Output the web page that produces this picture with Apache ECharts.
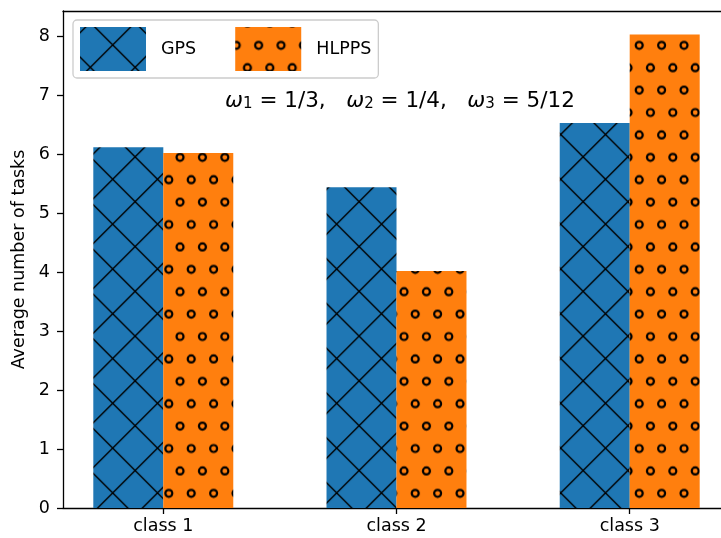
<!DOCTYPE html>
<html><head><meta charset="utf-8">
<script src="https://cdn.jsdelivr.net/npm/echarts@6/dist/echarts.min.js"></script>
<style>html,body{margin:0;padding:0;background:#fff}#c{width:721px;height:538px}</style>
</head><body><div id="c"></div>
<script>
const categories = ['class 1', 'class 2', 'class 3'];
const seriesNames = ['GPS', 'HLPPS'];
const gpsValues = [6.12, 5.44, 6.53];
const hlppsValues = [6.02, 4.02, 8.03];
const yTicks = [0, 1, 2, 3, 4, 5, 6, 7, 8];
const xTicks = [0, 1, 2];
const weights = ['1/3', '1/4', '5/12'];

const FONT = 'DejaVu Sans';
const FS = 17.5;
const T = 44.8, N = 448;

function xHatchCanvas() {
  const c = document.createElement('canvas'); c.width = N; c.height = N;
  const g = c.getContext('2d');
  g.fillStyle = '#1f77b4'; g.fillRect(0, 0, N, N);
  g.strokeStyle = '#000'; g.lineWidth = 1.4;
  g.beginPath();
  for (let k = -12; k <= 22; k++) {
    const d = k * T;
    g.moveTo(d - 20, -20); g.lineTo(d + N + 20, N + 20);
    g.moveTo(d + 20, -20); g.lineTo(d - N - 20, N + 20);
  }
  g.stroke();
  return c;
}
function oHatchCanvas() {
  const c = document.createElement('canvas'); c.width = N; c.height = N;
  const g = c.getContext('2d');
  g.fillStyle = '#ff7f0e'; g.fillRect(0, 0, N, N);
  g.strokeStyle = '#000'; g.lineWidth = 2.2;
  const h = T / 2;
  for (let i = -1; i <= 21; i++) {
    for (let j = -1; j <= 11; j++) {
      const pts = [[i * h, j * T], [i * h + h / 2, j * T + h]];
      for (const p of pts) {
        g.beginPath(); g.arc(p[0], p[1], 3.5, 0, Math.PI * 2); g.stroke();
      }
    }
  }
  return c;
}
const xc = xHatchCanvas(), oc = oHatchCanvas();
const gpsPattern = { image: xc, repeat: 'repeat', x: 23.1, y: 0.1 };
const hlPattern = { image: oc, repeat: 'repeat', x: 12.0, y: 0.5 };
const gpsLegendPattern = { image: xc, repeat: 'repeat', x: 23.1 - 80, y: 0.1 - 27 };
const hlLegendPattern = { image: oc, repeat: 'repeat', x: 12.0 - 235, y: 0.5 - 27 };

const annText = weights.map((w, i) => '{w|ω}{s|' + (i + 1) + '}{n| = ' + w + (i < weights.length - 1 ? ',   ' : '') + '}').join('');

const chart = echarts.init(document.getElementById('c'), null, { renderer: 'canvas' });
chart.setOption({
  animation: false,
  backgroundColor: '#fff',
  grid: { left: 63, right: 0, top: 11, bottom: 30, containLabel: false },
  legend: {
    left: 73, top: 20, padding: 7, itemGap: 39, itemWidth: 66, itemHeight: 44, icon: 'rect',
    backgroundColor: 'rgba(255,255,255,0.8)', borderColor: '#cccccc', borderWidth: 1.3, borderRadius: 4,
    selectedMode: false,
    textStyle: { fontFamily: FONT, fontSize: FS, color: '#000', padding: [0, 4, 0, 10] },
    data: [
      { name: seriesNames[0], itemStyle: { color: gpsLegendPattern } },
      { name: seriesNames[1], itemStyle: { color: hlLegendPattern } }
    ]
  },
  xAxis: [{
    type: 'value', min: -0.43, max: 2.3914, position: 'bottom',
    axisLine: { show: true, onZero: false, lineStyle: { color: '#000', width: 1.3 } },
    axisTick: { show: true, length: 6, lineStyle: { color: '#000', width: 1.3 }, customValues: xTicks },
    axisLabel: { customValues: xTicks, margin: 9, fontSize: FS, color: '#000', fontFamily: FONT,
      formatter: v => categories[Math.round(v)] },
    splitLine: { show: false }
  }, {
    type: 'value', min: -0.43, max: 2.3914, position: 'top',
    axisLine: { show: true, onZero: false, lineStyle: { color: '#000', width: 1.3 } },
    axisTick: { show: false }, axisLabel: { show: false }, splitLine: { show: false }
  }],
  yAxis: {
    type: 'value', min: 0, max: 8.43,
    axisLine: { show: true, onZero: false, lineStyle: { color: '#000', width: 1.3 } },
    axisTick: { show: true, length: 6, lineStyle: { color: '#000', width: 1.3 }, customValues: yTicks },
    axisLabel: { customValues: yTicks, margin: 13, fontSize: FS, color: '#000', fontFamily: FONT },
    splitLine: { show: false },
    name: 'Average number of tasks', nameLocation: 'middle', nameGap: 28,
    nameTextStyle: { fontFamily: FONT, fontSize: FS, color: '#000' }
  },
  graphic: [{
    type: 'text', left: 225, top: 90,
    style: {
      text: annText, fill: '#000',
      rich: {
        w: { fontFamily: FONT, fontStyle: 'italic', fontSize: 21.5, fill: '#000' },
        s: { fontFamily: FONT, fontSize: 15, lineHeight: 11, verticalAlign: 'bottom', fill: '#000' },
        n: { fontFamily: FONT, fontSize: 21.5, fill: '#000' }
      }
    }
  }],
  series: [{
    name: seriesNames[0], type: 'bar', xAxisIndex: 0, barWidth: 70, barGap: '-100%',
    data: gpsValues.map((v, i) => [xTicks[i] - 0.15, v]),
    itemStyle: { color: gpsPattern }, emphasis: { disabled: true }
  }, {
    name: seriesNames[1], type: 'bar', xAxisIndex: 0, barWidth: 70, barGap: '-100%',
    data: hlppsValues.map((v, i) => [xTicks[i] + 0.15, v]),
    itemStyle: { color: hlPattern }, emphasis: { disabled: true }
  }]
});
</script></body></html>
